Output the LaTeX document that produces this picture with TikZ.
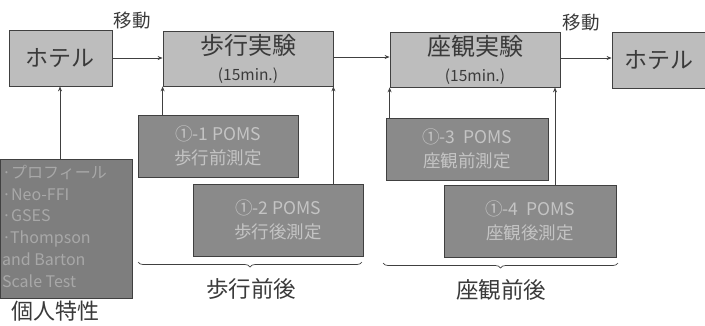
\documentclass[tikz,border=0pt]{standalone}
\usepackage{fontspec}
\setmainfont{Noto Sans CJK JP}
\usetikzlibrary{decorations.pathreplacing,arrows.meta}
\definecolor{boxlight}{HTML}{BDBDBD}
\definecolor{boxdark}{HTML}{8A8A8A}
\definecolor{boxdarker}{HTML}{7E7E7E}
\definecolor{inktxt}{HTML}{3A3A3A}
\definecolor{lighttxt}{HTML}{C4C4C4}
\definecolor{proftxt}{HTML}{A8A8A8}
\definecolor{linecol}{HTML}{404040}
\tikzset{
  upbox/.style={draw=linecol, fill=boxlight, line width=0.8pt, text=inktxt, inner sep=0pt, align=center},
  pomsbox/.style={draw=linecol, fill=boxdark, line width=0.8pt, text=lighttxt, inner sep=0pt, align=center, font=\fontsize{17.5}{24}\selectfont},
  conn/.style={draw=linecol, line width=0.8pt, -{Stealth[length=5pt,width=4pt]}},
  brc/.style={draw=linecol, line width=0.7pt, decorate, decoration={brace, mirror, amplitude=5pt}},
  lbl/.style={text=inktxt, inner sep=0pt}
}
\begin{document}
\begin{tikzpicture}[x=1pt,y=-1pt]
\useasboundingbox (0,0) rectangle (705,325);
% top row
\node[upbox, minimum width=103pt, minimum height=56pt, font=\fontsize{23}{26}\selectfont] (h1) at (60.5,58) {ホテル};
\node[upbox, minimum width=170pt, minimum height=55pt, font=\fontsize{24}{27}\selectfont] (walk) at (248,58.5) {歩行実験\\[-1pt]{\fontsize{15.5}{18}\selectfont (15min.)}};
\node[upbox, minimum width=170pt, minimum height=55pt, font=\fontsize{24}{27}\selectfont] (sit) at (475,59.5) {座観実験\\[-1pt]{\fontsize{15.5}{18}\selectfont (15min.)}};
\node[upbox, minimum width=93pt, minimum height=56pt, font=\fontsize{23}{26}\selectfont] (h2) at (658.5,60) {ホテル};
% labels
\node[lbl, font=\fontsize{18.5}{22}\selectfont] (m1) at (132,21) {移動};
\node[lbl, font=\fontsize{18.5}{22}\selectfont] (m2) at (581,23) {移動};
% POMS boxes
\node[pomsbox, minimum width=160pt, minimum height=62pt] (p1) at (218,146) {①-1 POMS\\歩行前測定};
\node[pomsbox, minimum width=170pt, minimum height=72pt] (p2) at (278,220) {①-2 POMS\\歩行後測定};
\node[pomsbox, minimum width=162pt, minimum height=62pt] (p3) at (467,149) {①-3\ \ POMS\\座観前測定};
\node[pomsbox, minimum width=172pt, minimum height=72pt] (p4) at (530,221) {①-4\ \ POMS\\座観後測定};
% profile box
\node[draw=linecol, fill=boxdarker, line width=0.8pt, minimum width=132pt, minimum height=139pt, inner sep=0pt] (prof) at (66,228.5) {};
\node[anchor=north west, text=proftxt, align=left, inner sep=0pt, font=\fontsize{16}{21.7}\selectfont] (proftext) at (2,165) {·プロフィール\\·Neo-FFI\\·GSES\\·Thompson\\and Barton\\Scale Test};
\node[lbl, font=\fontsize{22}{25}\selectfont] (kojin) at (56,311) {個人特性};
% connectors
\draw[conn] (h1.east) -- (walk.west |- h1.east);
\draw[conn] (walk.east |- 0,57) -- (sit.west |- 0,57);
\draw[conn] (sit.east |- 0,58) -- (h2.west |- 0,58);
\draw[conn] (prof.north -| 60,0) -- (h1.south -| 60,0);
\draw[conn] (p1.north -| walk.south west) -- (walk.south west);
\draw[conn] (p2.north -| walk.south east) -- (walk.south east);
\draw[conn] (p3.north -| sit.south west) -- (sit.south west);
\draw[conn] (p4.north -| 555,0) -- (sit.south -| 555,0);
% braces
\coordinate (b1a) at (138,262);
\coordinate (b1b) at (362,262);
\coordinate (b2a) at (383,263);
\coordinate (b2b) at (618,263);
\draw[brc] (b1a) -- (b1b);
\draw[brc] (b2a) -- (b2b);
\node[lbl, font=\fontsize{22.5}{25}\selectfont] (walkpp) at (251,289) {歩行前後};
\node[lbl, font=\fontsize{22.5}{25}\selectfont] (sitpp) at (501,290) {座観前後};
\end{tikzpicture}
\end{document}
